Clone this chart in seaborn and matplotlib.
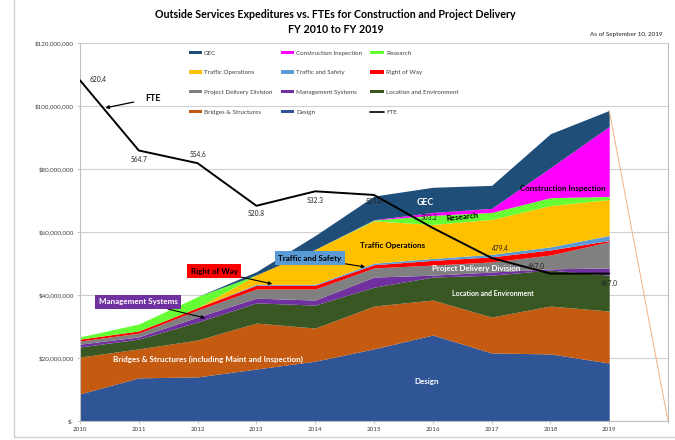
import numpy as np
import pandas as pd
import matplotlib
matplotlib.use("Agg")
import matplotlib.pyplot as plt
import seaborn as sns
from matplotlib.patches import Patch
from matplotlib.lines import Line2D
from matplotlib.ticker import FuncFormatter

# values in $ millions, FY 2010 .. FY 2019
years = [2010, 2011, 2012, 2013, 2014, 2015, 2016, 2017, 2018, 2019]
design = [8.6, 13.7, 14.0, 16.5, 19.0, 22.9, 27.3, 21.6, 21.3, 18.4]
bridges = [11.7, 9.2, 11.7, 14.6, 10.5, 13.6, 11.1, 11.4, 15.2, 16.5]
location_env = [3.2, 3.1, 5.7, 6.4, 7.3, 6.0, 7.3, 13.3, 11.4, 11.4]
mgmt_systems = [0.9, 0.7, 1.6, 1.5, 1.6, 3.2, 0.6, 1.0, 0.4, 2.3]
proj_delivery = [1.0, 1.2, 2.2, 2.9, 3.5, 2.9, 3.2, 3.2, 4.4, 8.3]
right_of_way = [0.6, 0.7, 0.8, 1.2, 1.2, 1.0, 1.5, 1.6, 1.6, 0.4]
traffic_safety = [0.0, 0.0, 0.0, 0.3, 0.3, 0.5, 0.6, 0.8, 1.0, 1.6]
traffic_ops = [0.0, 0.0, 0.0, 3.0, 11.1, 13.4, 10.8, 11.1, 13.1, 11.4]
research = [0.7, 2.2, 3.5, 0.0, 0.0, 0.3, 2.9, 2.2, 2.5, 1.0]
constr_insp = [0.0, 0.0, 0.0, 0.0, 0.0, 0.1, 0.9, 1.3, 9.5, 22.2]
gec = [0.0, 0.0, 0.0, 1.0, 4.4, 7.5, 8.0, 7.3, 10.8, 5.1]
fte = [620.4, 564.7, 554.6, 520.8, 532.3, 529.4, 503.2, 479.4, 467.0, 467.0]

series = [
    ("Design", design, "#2F5597"),
    ("Bridges & Structures", bridges, "#C55A11"),
    ("Location and Environment", location_env, "#385723"),
    ("Management Systems", mgmt_systems, "#7030A0"),
    ("Project Delivery Division", proj_delivery, "#808080"),
    ("Right of Way", right_of_way, "#FF0000"),
    ("Traffic and Safety", traffic_safety, "#5B9BD5"),
    ("Traffic Operations", traffic_ops, "#FFC000"),
    ("Research", research, "#66FF33"),
    ("Construction Inspection", constr_insp, "#FF00FF"),
    ("GEC", gec, "#1F4E79"),
]

sns.set_theme(style="white")
plt.rcParams["font.family"] = ["Lato", "DejaVu Sans"]

fig = plt.figure(figsize=(6.75, 4.4), dpi=100)
ax = fig.add_axes([80 / 675, 1 - 421 / 440, 588 / 675, 378 / 440])

x = np.array(years)
stack = np.array([s[1] for s in series]) * 1e6
ax.stackplot(x, stack, colors=[s[2] for s in series], linewidth=0, zorder=2)

# thin outline from the last total down to zero at the axis end
total = stack.sum(axis=0)
ax.plot([years[-1], years[-1] + 1], [total[-1], 0], color="#F4B183", lw=0.7, zorder=2)

ax.set_xlim(2010, 2020)
ax.set_ylim(0, 120e6)
ax.set_xticks(range(2010, 2021))
ax.set_xticklabels([str(y) for y in years] + [""])
ax.set_yticks(np.arange(0, 121e6, 20e6))
ax.yaxis.set_major_formatter(FuncFormatter(lambda v, p: "$-" if v == 0 else f"${v:,.0f}"))
ax.tick_params(axis="both", labelsize=4.5, length=2.5, width=0.6, direction="out", pad=2,
               colors="#BFBFBF", labelcolor="#404040", bottom=True, left=True)
ax.yaxis.grid(True, color="#D0D0D0", lw=0.8, zorder=0)
ax.set_axisbelow(True)
for side in ["left", "bottom", "right"]:
    ax.spines[side].set_color("#BFBFBF")
    ax.spines[side].set_linewidth(0.8)
ax.spines["top"].set_visible(False)

# FTE on hidden secondary axis
ax2 = ax.twinx()
fte_df = pd.DataFrame({"year": years, "fte": fte})
sns.lineplot(data=fte_df, x="year", y="fte", ax=ax2, color="black", lw=1.4, zorder=5)
ax2.set_ylim(350, 650)
ax2.set_xlim(2010, 2020)
ax2.set_yticks([])
ax2.set_ylabel("")
ax2.set_xlabel("")
for s in ax2.spines.values():
    s.set_visible(False)
ax.set_xlabel("")

fte_offsets = [(18, 1), (0, -9), (0, 9), (0, -8), (0, -9), (0, -7), (-4, 10), (9, 9), (-14, 7), (0, -10)]
for yr, v, off in zip(years, fte, fte_offsets):
    ax2.annotate(f"{v:.1f}", (yr, v), xytext=off, textcoords="offset pixels",
                 ha="center", va="center", fontsize=4.8, color="#222222", zorder=6)

# stack labels
def lab(txt, xd, yd, color="white", size=5.8, rot=0):
    ax.text(xd, yd * 1e6, txt, color=color, fontsize=size, fontweight="bold",
            ha="center", va="center", rotation=rot, zorder=4)

lab("GEC", 2015.87, 69.5, size=6.3)
lab("Research", 2016.51, 64.8, color="black", rot=6)
lab("Construction Inspection", 2018.21, 73.7, color="black")
lab("Traffic Operations", 2015.31, 55.6, color="black")
lab("Project Delivery Division", 2016.73, 48.3)
lab("Location and Environment", 2017.02, 40.6, size=5.0)
lab("Bridges & Structures (including Maint and Inspection)", 2012.18, 19.7)
lab("Design", 2015.90, 12.4)

def boxed(txt, xy_text, xy_arrow, face, color):
    ax.annotate(txt, xy=(xy_arrow[0], xy_arrow[1] * 1e6),
                xytext=(xy_text[0], xy_text[1] * 1e6),
                fontsize=5.8, fontweight="bold", color=color, ha="center", va="center",
                bbox=dict(boxstyle="square,pad=0.45", fc=face, ec="none"),
                arrowprops=dict(arrowstyle="-|>", color="black", lw=0.8,
                                mutation_scale=5, shrinkA=0, shrinkB=0),
                zorder=7)

boxed("Traffic and Safety", (2013.91, 51.7), (2014.85, 48.9), "#5B9BD5", "black")
boxed("Right of Way", (2012.28, 47.6), (2013.27, 43.5), "#FF0000", "black")
boxed("Management Systems", (2010.99, 37.8), (2012.13, 32.7), "#7030A0", "white")

ax.annotate("FTE", xy=(2010.43, 99.4e6), xytext=(2011.24, 102.5e6),
            fontsize=6.5, fontweight="bold", color="black", ha="center", va="center",
            arrowprops=dict(arrowstyle="-|>", color="black", lw=0.9,
                            mutation_scale=5, shrinkA=6, shrinkB=0),
            zorder=7)

# legend, Excel-style row order
by_name = {s[0]: s[2] for s in series}
order = [["GEC", "Traffic Operations", "Project Delivery Division", "Bridges & Structures"],
         ["Construction Inspection", "Traffic and Safety", "Management Systems", "Design"],
         ["Research", "Right of Way", "Location and Environment", "FTE"]]
handles, labels = [], []
for col in order:
    for name in col:
        if name == "FTE":
            handles.append(Line2D([0], [0], color="black", lw=1.2))
        else:
            handles.append(Patch(facecolor=by_name[name], edgecolor="none"))
        labels.append(name)
ax.legend(handles, labels, ncol=3, loc="upper left", bbox_to_anchor=(0.175, 0.995),
          frameon=False, fontsize=4.5, handlelength=2.2, handleheight=0.45,
          handletextpad=0.3, labelspacing=2.35, columnspacing=1.3,
          labelcolor="#404040")

fig.text(0.497, 0.966, "Outside Services Expeditures vs. FTEs for Construction and Project Delivery",
         ha="center", va="center", fontsize=7.7, fontweight="bold", color="black")
fig.text(0.497, 0.932, "FY 2010 to FY 2019", ha="center", va="center",
         fontsize=7.7, fontweight="bold", color="black")
fig.text(0.981, 0.921, "As of September 10, 2019", ha="right", va="center",
         fontsize=4.5, color="#222222")

# chart border
fig.add_artist(Line2D([14 / 675, 14 / 675], [0.006, 1], color="#D0D0D0", lw=1))
fig.add_artist(Line2D([14 / 675, 1], [0.006, 0.006], color="#D0D0D0", lw=1))

fig.savefig("out.png", dpi=100)
